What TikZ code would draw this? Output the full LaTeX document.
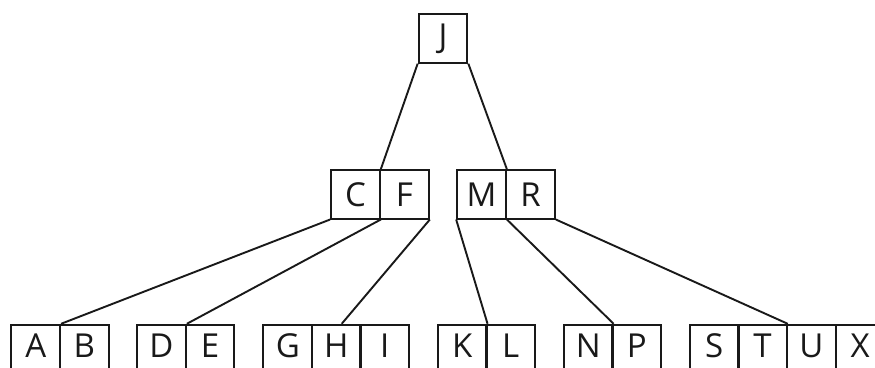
\documentclass[tikz,border=0pt]{standalone}
\usepackage{fontspec}
\setmainfont{Open Sans}
\begin{document}
\begin{tikzpicture}[x=1pt,y=-1pt,
  key/.style={draw=black!90, line width=1.9pt, minimum width=48.8pt, minimum height=48.5pt,
    inner sep=0pt, font=\fontsize{33}{36}\selectfont, text=black!90},
  leaf/.style={key, text height=23.5pt, text depth=6pt},
  link/.style={draw=black!90, line width=1.9pt}]
\useasboundingbox (0,0) rectangle (875,367);
\clip (0,0) rectangle (875,367);
% root
\node[key] (J) at (443,38.5) {J};
% second level
\node[key] (C) at (355.5,194.3) {C};
\node[key] (F) at (404.5,194.3) {F};
\node[key] (M) at (481.5,194.3) {M};
\node[key] (R) at (530.5,194.3) {R};
% leaves
\node[leaf] (A) at (35.7,349) {A};
\node[leaf] (B) at (84.3,349) {B};
\node[leaf] (D) at (161.5,349) {D};
\node[leaf] (E) at (210,349) {E};
\node[leaf] (G) at (287.8,349) {G};
\node[leaf] (H) at (336.2,349) {H};
\node[leaf] (I) at (384.6,349) {I};
\node[leaf] (K) at (462.2,349) {K};
\node[leaf] (L) at (510.7,349) {L};
\node[leaf] (N) at (588.3,349) {N};
\node[leaf] (P) at (636.7,349) {P};
\node[leaf] (S) at (714.2,349) {S};
\node[leaf] (T) at (762.4,349) {T};
\node[leaf] (U) at (811.3,349) {U};
\node[leaf] (X) at (860.2,349) {X};
% child pointers
\draw[link] (J.south west) -- (C.north east);
\draw[link] (J.south east) -- (M.north east);
\draw[link] (C.south west) -- (A.north east);
\draw[link] (C.south east) -- (D.north east);
\draw[link] (F.south east) -- ([xshift=5.5pt]H.north);
\draw[link] (M.south west) -- (K.north east);
\draw[link] (M.south east) -- (N.north east);
\draw[link] (R.south east) -- (T.north east);
\end{tikzpicture}
\end{document}
